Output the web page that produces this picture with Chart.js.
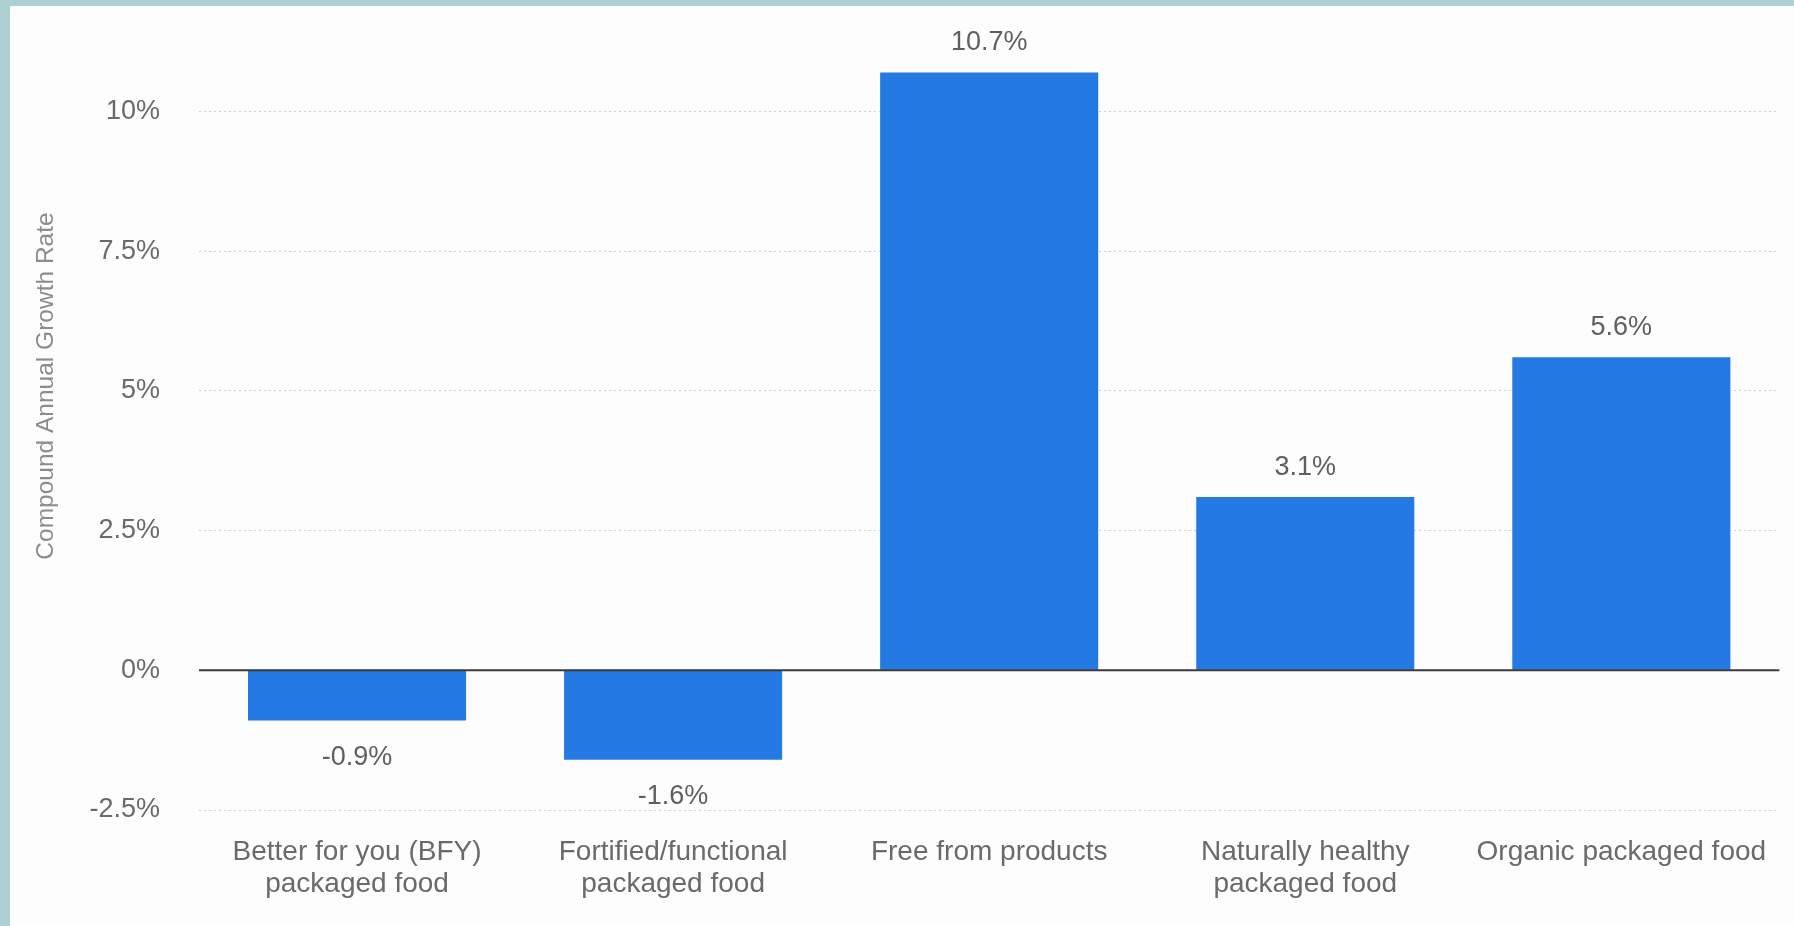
<!DOCTYPE html>
<html>
<head>
<meta charset="utf-8">
<script src="https://cdn.jsdelivr.net/npm/chart.js@4.4.1/dist/chart.umd.min.js"></script>
<style>
  html, body { margin: 0; padding: 0; }
  body { width: 1794px; height: 926px; background: #afd0d0; position: relative; overflow: hidden; }
  #wrap { position: absolute; left: 10px; top: 6px; width: 1784px; height: 920px; background: #fdfdfd; }
</style>
</head>
<body>
<div id="wrap"><canvas id="growthChart"></canvas></div>
<script>
// chart data
const categories = [
  ['Better for you (BFY)', 'packaged food'],
  ['Fortified/functional', 'packaged food'],
  'Free from products',
  ['Naturally healthy', 'packaged food'],
  'Organic packaged food'
];
const growthRates = [-0.9, -1.6, 10.7, 3.1, 5.6];
const yTicks = [-2.5, 0, 2.5, 5, 7.5, 10];
const yTitle = 'Compound Annual Growth Rate';

const fontFamily = '"Liberation Sans", Arial, Helvetica, sans-serif';

function fmtPct(v) {
  return v.toLocaleString('en-US') + '%';
}

// value labels above/below each bar
const valueLabels = {
  id: 'valueLabels',
  afterDatasetsDraw(chart) {
    const ctx = chart.ctx;
    const meta = chart.getDatasetMeta(0);
    ctx.save();
    ctx.font = '27px ' + fontFamily;
    ctx.fillStyle = '#5f5f5f';
    ctx.textAlign = 'center';
    meta.data.forEach((bar, i) => {
      const v = growthRates[i];
      if (v >= 0) {
        ctx.textBaseline = 'alphabetic';
        ctx.fillText(fmtPct(v), bar.x, bar.y - 22);
      } else {
        ctx.textBaseline = 'top';
        ctx.fillText(fmtPct(v), bar.x, bar.y + 23);
      }
    });
    ctx.restore();
  }
};

// solid zero line drawn over the bars
const zeroLine = {
  id: 'zeroLine',
  afterDatasetsDraw(chart) {
    const { ctx, chartArea, scales } = chart;
    const y = scales.y.getPixelForValue(0);
    ctx.save();
    ctx.strokeStyle = '#3a3a3a';
    ctx.lineWidth = 2;
    ctx.beginPath();
    ctx.moveTo(chartArea.left, y);
    ctx.lineTo(chartArea.right, y);
    ctx.stroke();
    ctx.restore();
  }
};

// rotated y axis title
const axisTitle = {
  id: 'axisTitle',
  afterDraw(chart) {
    const ctx = chart.ctx;
    ctx.save();
    ctx.translate(36, 380);
    ctx.rotate(-Math.PI / 2);
    ctx.font = '24.5px ' + fontFamily;
    ctx.fillStyle = '#8c8c8c';
    ctx.textAlign = 'center';
    ctx.textBaseline = 'middle';
    ctx.fillText(yTitle, 0, 0);
    ctx.restore();
  }
};

const ctx = document.getElementById('growthChart').getContext('2d');
new Chart(ctx, {
  type: 'bar',
  data: {
    labels: categories,
    datasets: [{
      data: growthRates,
      backgroundColor: '#2479e3',
      borderWidth: 0,
      categoryPercentage: 0.69,
      barPercentage: 1
    }]
  },
  options: {
    responsive: true,
    maintainAspectRatio: false,
    animation: false,
    layout: { padding: { top: 14, right: 9, left: 0, bottom: 0 } },
    plugins: {
      legend: { display: false },
      tooltip: { enabled: false }
    },
    scales: {
      x: {
        grid: { display: false, drawTicks: false },
        border: { display: false },
        ticks: {
          color: '#6a6a6a',
          font: { family: fontFamily, size: 28, lineHeight: 1.12 },
          padding: 27,
          maxRotation: 0,
          autoSkip: false
        },
        afterFit(scale) { scale.height = 116; }
      },
      y: {
        min: -2.5,
        max: 10.9,
        grid: {
          drawTicks: false,
          color: c => (c.tick && c.tick.value === 0) ? 'rgba(0,0,0,0)' : '#cfcfcf',
          lineWidth: 1
        },
        border: { display: false, dash: [2, 3] },
        ticks: {
          color: '#6a6a6a',
          font: { family: fontFamily, size: 27 },
          padding: 39,
          callback: v => fmtPct(v)
        },
        afterBuildTicks(scale) {
          scale.ticks = yTicks.map(v => ({ value: v }));
        },
        afterFit(scale) { scale.width = 189; }
      }
    }
  },
  plugins: [valueLabels, zeroLine, axisTitle]
});
</script>
</body>
</html>
